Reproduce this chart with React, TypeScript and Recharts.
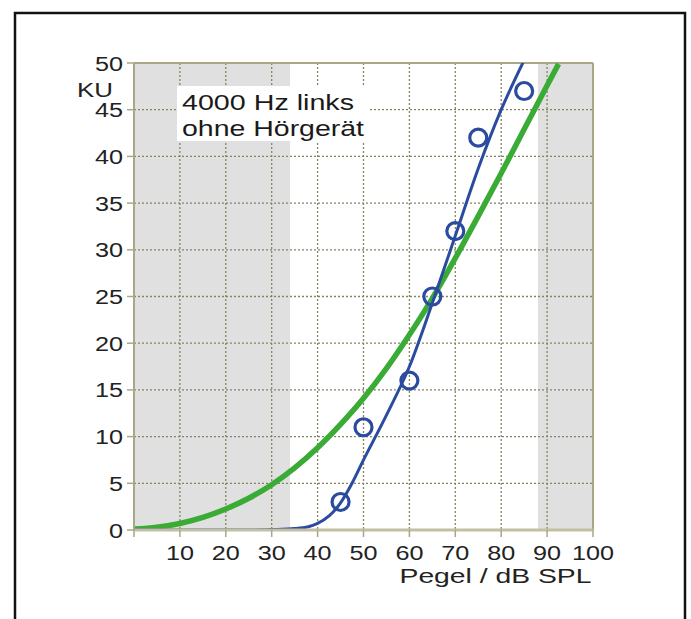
import {
  ComposedChart,
  Line,
  Scatter,
  XAxis,
  YAxis,
  CartesianGrid,
  ReferenceArea,
  ReferenceLine,
} from "recharts";

// measured loudness scaling points (Pegel dB SPL -> KU)
const pointX = [45, 50, 60, 65, 70, 75, 85];
const pointY = [3, 11, 16, 25, 32, 42, 47];

// fitted curve (blue)
const blueX = [0, 5, 10, 15, 20, 25, 30, 35, 38, 40, 42.5, 45, 47.5, 50, 55, 60, 65, 70, 75, 80, 85];
const blueY = [0, 0, 0, 0, 0, 0, 0.05, 0.15, 0.35, 0.7, 1.5, 2.9, 5, 7.5, 12.3, 17.5, 24.3, 31.5, 38.7, 45, 50.3];

// reference curve (green)
const greenX = [0, 5, 10, 15, 20, 25, 30, 35, 40, 45, 50, 55, 60, 65, 70, 75, 80, 85, 90, 92.5];
const greenY = [0.1, 0.3, 0.7, 1.35, 2.25, 3.4, 4.85, 6.65, 8.8, 11.3, 14.1, 17.3, 20.9, 24.8, 29.1, 33.6, 38.2, 42.9, 47.6, 49.9];

const xTicks = [0, 10, 20, 30, 40, 50, 60, 70, 80, 90, 100];
const yTicks = [0, 5, 10, 15, 20, 25, 30, 35, 40, 45, 50];

const points = pointX.map((x, i) => ({ x, y: pointY[i] }));
const blue = blueX.map((x, i) => ({ x, y: blueY[i] }));
const green = greenX.map((x, i) => ({ x, y: greenY[i] }));

const FONT = "'Liberation Sans', Arial, sans-serif";
const BLUE = "#2a4b9e";
const GREEN = "#3aab34";
const OLIVE = "#a9a786";

const XTick = (props: any) => {
  const { x, y, payload } = props;
  if (payload.value === 0) return null;
  return (
    <g transform={`translate(${x},${y}) scale(1.2,1)`}>
      <text textAnchor="middle" dy={23} fontSize={21} fontFamily={FONT} fill="#222">
        {payload.value}
      </text>
    </g>
  );
};

const YTick = (props: any) => {
  const { x, y, payload } = props;
  return (
    <g transform={`translate(${x},${y}) scale(1.2,1)`}>
      <text textAnchor="end" dy={7.5} fontSize={21} fontFamily={FONT} fill="#222">
        {payload.value}
      </text>
    </g>
  );
};

const Ring = (props: any) => {
  const { cx, cy } = props;
  return <circle cx={cx} cy={cy} r={8.5} fill="none" stroke={BLUE} strokeWidth={3.2} />;
};

export default function App() {
  return (
    <div style={{ position: "fixed", left: 0, top: 0, width: 691, height: 619, background: "#fff", overflow: "hidden" }}>
      <ComposedChart width={691} height={619} margin={{ top: 63, right: 98, bottom: 0, left: 0 }}>
        <ReferenceArea x1={0} x2={34} y1={0} y2={50} fill="#000" fillOpacity={0.12} stroke="none" zIndex={-150} />
        <ReferenceArea x1={88} x2={100} y1={0} y2={50} fill="#000" fillOpacity={0.12} stroke="none" zIndex={-150} />
        <CartesianGrid stroke="#858360" strokeDasharray="2 2" strokeWidth={1.3} horizontalValues={yTicks.slice(1, -1)} verticalValues={xTicks.slice(1, -1)} />
        <XAxis
          type="number"
          dataKey="x"
          domain={[0, 100]}
          ticks={xTicks}
          interval={0}
          height={89}
          tickSize={7}
          tickMargin={0}
          axisLine={{ stroke: "#c2c0a2", strokeWidth: 3 }}
          tickLine={{ stroke: OLIVE, strokeWidth: 1.5 }}
          tick={<XTick />}
        />
        <YAxis
          type="number"
          dataKey="y"
          domain={[0, 50]}
          ticks={yTicks}
          interval={0}
          width={134}
          tickSize={7}
          tickMargin={4}
          allowDataOverflow
          axisLine={{ stroke: OLIVE, strokeWidth: 2 }}
          tickLine={{ stroke: OLIVE, strokeWidth: 1.5 }}
          tick={<YTick />}
        />
        <ReferenceLine y={50} stroke={OLIVE} strokeWidth={2} />
        <ReferenceLine x={100} stroke={OLIVE} strokeWidth={2} />
        <Line data={green} dataKey="y" type="monotone" stroke={GREEN} strokeWidth={5.5} dot={false} isAnimationActive={false} />
        <Line data={blue} dataKey="y" type="monotone" stroke={BLUE} strokeWidth={3} dot={false} isAnimationActive={false} />
        <Scatter data={points} dataKey="y" shape={<Ring />} isAnimationActive={false} />
      </ComposedChart>
      <svg width={691} height={619} style={{ position: "absolute", left: 0, top: 0, pointerEvents: "none" }}>
        <path d="M15,619 V13 H685 V619" fill="none" stroke="#111" strokeWidth={2.5} />
        <rect x={177} y={86} width={191} height={55} fill="#fff" />
        <text x={182} y={110} fontSize={22} fontFamily={FONT} fill="#1a1a1a" textLength={172} lengthAdjust="spacingAndGlyphs">
          4000 Hz links
        </text>
        <text x={182} y={136} fontSize={22} fontFamily={FONT} fill="#1a1a1a" textLength={182} lengthAdjust="spacingAndGlyphs">
          ohne Hörgerät
        </text>
        <text x={77} y={97} fontSize={21} fontFamily={FONT} fill="#222" textLength={36} lengthAdjust="spacingAndGlyphs">
          KU
        </text>
        <text x={399.5} y={582.5} fontSize={21} fontFamily={FONT} fill="#222" textLength={192} lengthAdjust="spacingAndGlyphs">
          Pegel / dB SPL
        </text>
      </svg>
    </div>
  );
}
